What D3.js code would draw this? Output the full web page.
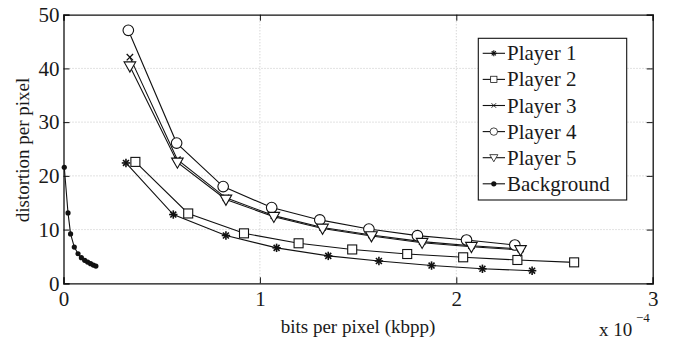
<!DOCTYPE html>
<html>
<head>
<meta charset="utf-8">
<script src="https://cdn.jsdelivr.net/npm/d3@7"></script>
<style>
  body { margin: 0; background: #fff; }
</style>
</head>
<body>
<script>
// x values are in units of 1e-4 bpp
const p1x = [0.318, 0.559, 0.827, 1.085, 1.348, 1.606, 1.874, 2.133, 2.386];
const p1y = [22.4, 12.8, 8.9, 6.6, 5.1, 4.15, 3.3, 2.7, 2.35];
const p2x = [0.366, 0.635, 0.919, 1.197, 1.47, 1.75, 2.035, 2.311, 2.6];
const p2y = [22.6, 13.0, 9.3, 7.45, 6.3, 5.45, 4.84, 4.34, 3.9];
const p3x = [0.338, 0.58, 0.827, 1.071, 1.319, 1.568, 1.826, 2.077, 2.327];
const p3y = [42.1, 23.0, 15.9, 12.6, 10.4, 9.0, 7.75, 7.0, 6.4];
const p4x = [0.33, 0.576, 0.813, 1.06, 1.305, 1.555, 1.802, 2.052, 2.298];
const p4y = [47.1, 26.1, 18.0, 14.1, 11.8, 10.1, 8.87, 8.06, 7.13];
const p5x = [0.338, 0.58, 0.827, 1.071, 1.319, 1.568, 1.826, 2.077, 2.327];
const p5y = [40.4, 22.5, 15.6, 12.4, 10.2, 8.8, 7.56, 6.8, 6.2];
const bgx = [0.004, 0.023, 0.036, 0.055, 0.074, 0.091, 0.108, 0.123, 0.138, 0.152, 0.165];
const bgy = [21.6, 13.1, 9.2, 6.75, 5.5, 4.77, 4.28, 3.96, 3.66, 3.4, 3.2];

const seriesNames = ["Player 1", "Player 2", "Player 3", "Player 4", "Player 5", "Background"];
const markers = ["asterisk", "square", "cross", "circle", "triangle", "dot"];
const xTicks = [0, 1, 2, 3];
const yTicks = [0, 10, 20, 30, 40, 50];

const series = [
  [p1x, p1y], [p2x, p2y], [p3x, p3y], [p4x, p4y], [p5x, p5y], [bgx, bgy]
].map((s, i) => ({
  name: seriesNames[i],
  marker: markers[i],
  pts: s[0].map((x, j) => [x, s[1][j]])
}));

const W = 675, H = 341;
const margin = {top: 14.7, right: 22.3, bottom: 57.7, left: 63.5};
const FONT = "Liberation Serif";
const INK = "#1a1a1a";

const svg = d3.select("body").append("svg")
  .attr("width", W).attr("height", H);

const x = d3.scaleLinear().domain([0, 3]).range([margin.left, W - margin.right]);
const y = d3.scaleLinear().domain([0, 50]).range([H - margin.bottom, margin.top]);

// dotted grid
const grid = svg.append("g").attr("stroke", "#b8b8b8").attr("stroke-width", 0.8)
  .attr("stroke-dasharray", "1,2");
grid.selectAll(".gx").data(xTicks.slice(1, -1)).join("line")
  .attr("x1", d => x(d)).attr("x2", d => x(d))
  .attr("y1", y(0)).attr("y2", y(50));
grid.selectAll(".gy").data(yTicks.slice(1, -1)).join("line")
  .attr("y1", d => y(d)).attr("y2", d => y(d))
  .attr("x1", x(0)).attr("x2", x(3));

// axes, ticks pointing inside, box on all sides
const tickLen = 6;
svg.append("g").attr("transform", `translate(0,${y(0)})`)
  .call(d3.axisBottom(x).tickValues(xTicks).tickSize(-tickLen).tickPadding(8).tickFormat(d3.format("d")));
svg.append("g").attr("transform", `translate(${x(0)},0)`)
  .call(d3.axisLeft(y).tickValues(yTicks).tickSize(-tickLen).tickPadding(4).tickFormat(d3.format("d")));
svg.append("g").attr("transform", `translate(0,${y(50)})`)
  .call(d3.axisTop(x).tickValues(xTicks).tickSize(-tickLen).tickFormat(""));
svg.append("g").attr("transform", `translate(${x(3)},0)`)
  .call(d3.axisRight(y).tickValues(yTicks).tickSize(-tickLen).tickFormat(""));

svg.selectAll(".domain").attr("stroke", "#111").attr("stroke-width", 1.3);
svg.selectAll(".tick line").attr("stroke", "#111").attr("stroke-width", 1);
svg.selectAll(".tick text")
  .attr("font-family", FONT).attr("font-size", 21).attr("fill", INK);

// axis labels
svg.append("text").attr("x", 358).attr("y", 333).attr("text-anchor", "middle")
  .attr("font-family", FONT).attr("font-size", 19).attr("fill", INK)
  .text("bits per pixel (kbpp)");
svg.append("text").attr("transform", `translate(29,${(y(0) + y(50)) / 2 + 1}) rotate(-90)`)
  .attr("text-anchor", "middle").attr("font-family", FONT).attr("font-size", 19).attr("fill", INK)
  .text("distortion per pixel");
svg.append("text").attr("x", 599).attr("y", 336)
  .attr("font-family", FONT).attr("font-size", 19).attr("fill", INK).text("x 10");
svg.append("text").attr("x", 636).attr("y", 322)
  .attr("font-family", FONT).attr("font-size", 13).attr("fill", INK).text("\u22124");

// markers
function drawMarker(g, type, cx, cy) {
  const s = "#111";
  if (type === "asterisk") {
    const r = 4.2;
    [0, 45, 90, 135].forEach(a => {
      const rad = a * Math.PI / 180;
      g.append("line").attr("x1", cx - r * Math.cos(rad)).attr("y1", cy - r * Math.sin(rad))
        .attr("x2", cx + r * Math.cos(rad)).attr("y2", cy + r * Math.sin(rad))
        .attr("stroke", s).attr("stroke-width", 1.6);
    });
  } else if (type === "square") {
    g.append("rect").attr("x", cx - 4.5).attr("y", cy - 4.5).attr("width", 9).attr("height", 9)
      .attr("fill", "#fff").attr("stroke", s).attr("stroke-width", 1.1);
  } else if (type === "cross") {
    const r = 3.2;
    g.append("path").attr("d", `M${cx - r},${cy - r}L${cx + r},${cy + r}M${cx - r},${cy + r}L${cx + r},${cy - r}`)
      .attr("stroke", s).attr("stroke-width", 1.3);
  } else if (type === "circle") {
    g.append("circle").attr("cx", cx).attr("cy", cy).attr("r", 5.3)
      .attr("fill", "#fff").attr("stroke", s).attr("stroke-width", 1.1);
  } else if (type === "triangle") {
    const r = 5.8;
    g.append("path").attr("d", `M${cx - r},${cy - r * 0.75}L${cx + r},${cy - r * 0.75}L${cx},${cy + r}Z`)
      .attr("fill", "#fff").attr("stroke", s).attr("stroke-width", 1.1);
  } else if (type === "dot") {
    g.append("circle").attr("cx", cx).attr("cy", cy).attr("r", 2.6).attr("fill", s);
  }
}

const line = d3.line().x(d => x(d[0])).y(d => y(d[1]));
const plot = svg.append("g");
series.forEach(sr => {
  plot.append("path").datum(sr.pts).attr("d", line)
    .attr("fill", "none").attr("stroke", "#111").attr("stroke-width", 1.1);
});
series.forEach(sr => {
  const g = plot.append("g");
  sr.pts.forEach(p => drawMarker(g, sr.marker, x(p[0]), y(p[1])));
});

// legend
const lg = svg.append("g");
lg.append("rect").attr("x", 478.3).attr("y", 38.3).attr("width", 148.4).attr("height", 161.7)
  .attr("fill", "#fff").attr("stroke", "#111").attr("stroke-width", 1.1);
series.forEach((sr, i) => {
  const cy = 53.3 + i * 26.1;
  lg.append("line").attr("x1", 482.7).attr("x2", 505).attr("y1", cy).attr("y2", cy)
    .attr("stroke", "#111").attr("stroke-width", 1.1);
  const sc = sr.marker === "dot" ? 1 : 0.7;
  const mg = lg.append("g").attr("transform", `translate(${493.8},${cy}) scale(${sc})`);
  drawMarker(mg, sr.marker, 0, 0);
  lg.append("text").attr("x", 507).attr("y", cy + 7)
    .attr("font-family", FONT).attr("font-size", 21).attr("fill", INK)
    .text(sr.name);
});
</script>
</body>
</html>
